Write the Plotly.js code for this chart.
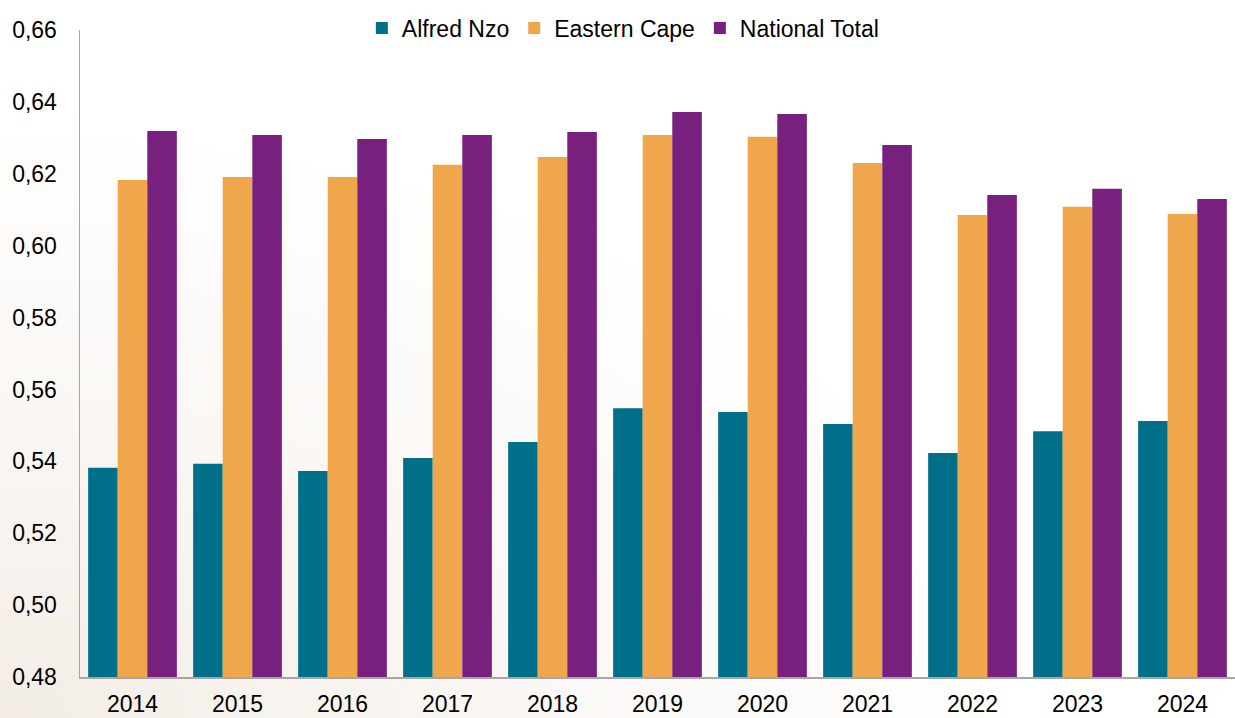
<!DOCTYPE html>
<html>
<head>
<meta charset="utf-8">
<script src="https://cdn.plot.ly/plotly-3.0.1.min.js"></script>
<style>
  html, body { margin: 0; padding: 0; background: #ffffff; }
  #wrap { position: relative; width: 1235px; height: 718px; overflow: hidden;
          background: radial-gradient(ellipse at 0% 100%, #f3ede6 0%, #faf7f4 30%, #ffffff 60%); }
  #chart { position: absolute; left: 0; top: 0; width: 1235px; height: 718px; }
</style>
</head>
<body>
<div id="wrap">
  <div id="chart"></div>
</div>
<script>
const years = ['2014','2015','2016','2017','2018','2019','2020','2021','2022','2023','2024'];
const alfredNzo = [0.5382, 0.5393, 0.5373, 0.5409, 0.5454, 0.5548, 0.5537, 0.5504, 0.5423, 0.5484, 0.5512];
const easternCape = [0.6183, 0.6191, 0.6191, 0.6225, 0.6247, 0.6308, 0.6303, 0.6230, 0.6085, 0.6108, 0.6088];
const nationalTotal = [0.6319, 0.6308, 0.6297, 0.6308, 0.6316, 0.6372, 0.6366, 0.6280, 0.6141, 0.6158, 0.6130];
const yTicks = [0.48, 0.50, 0.52, 0.54, 0.56, 0.58, 0.60, 0.62, 0.64, 0.66];

const font = { family: '"Liberation Sans", Arial, sans-serif', color: '#000000' };
const traces = [
  { type: 'bar', name: 'Alfred Nzo', x: years, y: alfredNzo, marker: { color: '#00708A' } },
  { type: 'bar', name: 'Eastern Cape', x: years, y: easternCape, marker: { color: '#F0A64A' } },
  { type: 'bar', name: 'National Total', x: years, y: nationalTotal, marker: { color: '#78207D' } }
];
const layout = {
  width: 1235, height: 718,
  margin: { l: 80, r: 0, t: 30, b: 41 },
  paper_bgcolor: 'rgba(0,0,0,0)',
  plot_bgcolor: 'rgba(0,0,0,0)',
  separators: ', ',
  barmode: 'group',
  bargap: 0.155,
  bargroupgap: 0,
  font: font,
  showlegend: true,
  legend: {
    orientation: 'h', x: 0.47, xanchor: 'center', y: 1.003, yanchor: 'middle',
    font: { family: font.family, size: 23, color: '#000' },
    bgcolor: 'rgba(0,0,0,0)', itemwidth: 30, traceorder: 'normal'
  },
  xaxis: {
    type: 'category',
    showgrid: false, zeroline: false,
    showline: true, linecolor: '#a6a6a6', linewidth: 1.5,
    ticks: '', tickfont: { family: font.family, size: 23, color: '#000' },
    ticklabelstandoff: 6
  },
  yaxis: {
    range: [0.48, 0.66],
    tickvals: yTicks, tickformat: '.2f',
    showgrid: false, zeroline: false,
    showline: true, linecolor: '#a6a6a6', linewidth: 1.5,
    ticks: '', tickfont: { family: font.family, size: 23, color: '#000' },
    ticklabelstandoff: 17
  }
};
Plotly.newPlot('chart', traces, layout, { displayModeBar: false, staticPlot: true });
</script>
</body>
</html>
